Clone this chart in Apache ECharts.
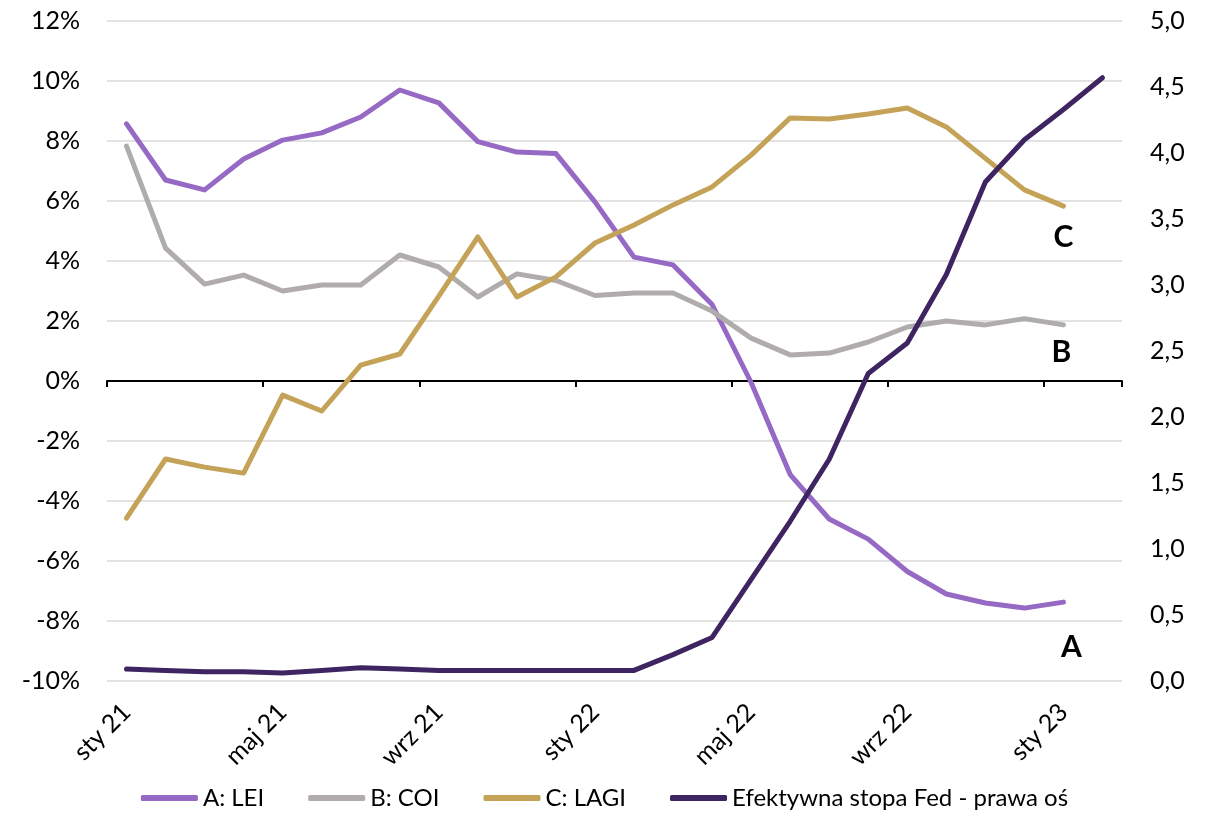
<!DOCTYPE html>
<html>
<head>
<meta charset="utf-8">
<script src="https://cdn.jsdelivr.net/npm/echarts@6/dist/echarts.min.js"></script>
<style>
html,body{margin:0;padding:0;background:#fff;}
#chart{width:1209px;height:815px;}
</style>
</head>
<body>
<div id="chart"></div>
<script>
const categories = ['sty 21','lut 21','mar 21','kwi 21','maj 21','cze 21','lip 21','sie 21','wrz 21','paź 21','lis 21','gru 21',
  'sty 22','lut 22','mar 22','kwi 22','maj 22','cze 22','lip 22','sie 22','wrz 22','paź 22','lis 22','gru 22',
  'sty 23','lut 23'];
const lei  = [8.57, 6.7, 6.37, 7.4, 8.03, 8.27, 8.8, 9.7, 9.27, 7.98, 7.63, 7.58, 5.97, 4.13, 3.87, 2.55, -0.05, -3.12, -4.6, -5.27, -6.35, -7.1, -7.4, -7.57, -7.37, null];
const coi  = [7.83, 4.43, 3.23, 3.53, 3.0, 3.2, 3.2, 4.2, 3.8, 2.8, 3.57, 3.35, 2.85, 2.93, 2.93, 2.33, 1.43, 0.87, 0.93, 1.3, 1.8, 2.0, 1.87, 2.08, 1.87, null];
const lagi = [-4.57, -2.6, -2.87, -3.07, -0.47, -1.0, 0.53, 0.9, 2.83, 4.8, 2.8, 3.47, 4.6, 5.2, 5.87, 6.47, 7.53, 8.77, 8.73, 8.9, 9.1, 8.47, 7.42, 6.37, 5.83, null];
const fed  = [0.09, 0.08, 0.07, 0.07, 0.06, 0.08, 0.10, 0.09, 0.08, 0.08, 0.08, 0.08, 0.08, 0.08, 0.20, 0.33, 0.77, 1.21, 1.68, 2.33, 2.56, 3.08, 3.78, 4.10, 4.33, 4.57];
const leftTicks = {min: -10, max: 12, interval: 2};
const rightTicks = {min: 0, max: 5, interval: 0.5};
const names = ['A: LEI', 'B: COI', 'C: LAGI', 'Efektywna stopa Fed - prawa oś'];
const endTags = ['A', 'B', 'C'];

const FONT = 'Lato';
const colors = ['#9569c4', '#b0acab', '#c4a257', '#3f2462'];

function withEndTag(arr, tag, offset) {
  let last = -1;
  arr.forEach((v, i) => { if (v !== null) last = i; });
  return arr.map((v, i) => i === last ? {
    value: v,
    label: {show: true, formatter: tag, position: 'inside', offset: offset,
      fontFamily: FONT, fontWeight: 'bold', fontSize: 30, color: '#000'}
  } : v);
}

function lineSeries(name, data, color, yIdx) {
  return {
    name: name, type: 'line', data: data, yAxisIndex: yIdx, xAxisIndex: 0,
    symbol: 'circle', symbolSize: 0, showSymbol: true,
    lineStyle: {color: color, width: 5, cap: 'round', join: 'round'},
    itemStyle: {color: color},
    label: {show: false},
    emphasis: {disabled: true}, silent: true, animation: false
  };
}

const chart = echarts.init(document.getElementById('chart'), null, {renderer: 'canvas'});
chart.setOption({
  backgroundColor: '#fff',
  animation: false,
  textStyle: {fontFamily: FONT},
  grid: {left: 107, right: 87, top: 21, bottom: 134, containLabel: false},
  legend: {
    bottom: 0, left: 'center',
    icon: 'roundRect', itemWidth: 57, itemHeight: 6, itemGap: 44,
    textStyle: {fontFamily: FONT, fontSize: 24, color: '#000'},
    data: names
  },
  xAxis: [{
    type: 'category', data: categories, boundaryGap: true,
    axisLine: {show: false, onZero: false},
    axisTick: {show: false},
    axisLabel: {interval: 3, rotate: 45, fontFamily: FONT, fontSize: 25, color: '#000', margin: 27},
    splitLine: {show: false}
  }, {
    type: 'category', data: categories, boundaryGap: true, position: 'bottom',
    axisLine: {show: true, onZero: true, onZeroAxisIndex: 0, lineStyle: {color: '#000', width: 2}},
    axisTick: {show: true, interval: 3, length: 6, lineStyle: {color: '#000', width: 2}},
    axisLabel: {show: false},
    splitLine: {show: false}
  }],
  yAxis: [{
    type: 'value', min: leftTicks.min, max: leftTicks.max, interval: leftTicks.interval,
    axisLine: {show: false}, axisTick: {show: false},
    axisLabel: {formatter: '{value}%', fontFamily: FONT, fontSize: 25, color: '#000', margin: 27},
    splitLine: {show: true, lineStyle: {color: '#d9d9d9', width: 1.5}}
  }, {
    type: 'value', min: rightTicks.min, max: rightTicks.max, interval: rightTicks.interval, position: 'right',
    axisLine: {show: false}, axisTick: {show: false},
    axisLabel: {formatter: v => v.toFixed(1).replace('.', ','), fontFamily: FONT, fontSize: 25, color: '#000', margin: 28},
    splitLine: {show: false}
  }],
  series: [
    lineSeries(names[0], withEndTag(lei, endTags[0], [8, 45]), colors[0], 0),
    lineSeries(names[1], withEndTag(coi, endTags[1], [-2, 27]), colors[1], 0),
    lineSeries(names[2], withEndTag(lagi, endTags[2], [0, 31]), colors[2], 0),
    lineSeries(names[3], fed, colors[3], 1)
  ]
});
</script>
</body>
</html>
